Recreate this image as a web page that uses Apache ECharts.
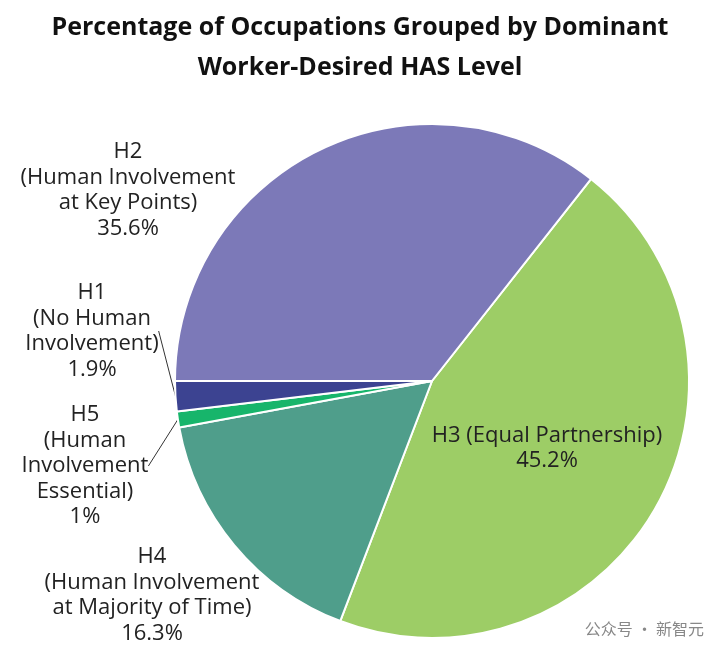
<!DOCTYPE html>
<html><head><meta charset="utf-8">
<script src="https://cdn.jsdelivr.net/npm/echarts@6/dist/echarts.min.js"></script>
<style>html,body{margin:0;background:#fff}#c{width:720px;height:651px}</style>
</head><body><div id="c"></div>
<script>
const categories = ['H3 (Equal Partnership)', 'H4\n(Human Involvement\nat Majority of Time)', 'H5\n(Human\nInvolvement\nEssential)', 'H1\n(No Human\nInvolvement)', 'H2\n(Human Involvement\nat Key Points)'];
const values = [45.2, 16.3, 1, 1.9, 35.6];
const valueLabels = ['45.2%', '16.3%', '1%', '1.9%', '35.6%'];
const colors = ['#9dcd66', '#4f9e8b', '#17b56b', '#3c4391', '#7c79b8'];
const labelPos = [[547, 448], [152, 595], [85, 466], [92, 331], [128, 190]];
const chart = echarts.init(document.getElementById('c'));
chart.setOption({
  title: {text: 'Percentage of Occupations Grouped by Dominant\nWorker-Desired HAS Level', left: 'center', top: 3,
    textStyle: {fontFamily: 'Open Sans', fontWeight: 'bold', fontSize: 25, lineHeight: 40, color: '#111'}},
  graphic: [{type: 'text', right: 16, bottom: 14, style: {text: '公众号 · 新智元', font: '16px "Noto Sans CJK SC"', fill: '#888'}}],
  series: [{
    type: 'pie', center: [432, 381], radius: 257, startAngle: 51.8, clockwise: true,
    itemStyle: {borderColor: '#fff', borderWidth: 2},
    data: categories.map((c, i) => ({name: c, value: values[i], itemStyle: {color: colors[i]},
      label: {position: i === 0 ? 'inside' : 'outside'},
      labelLine: {show: i === 2 || i === 3, lineStyle: {color: '#333', width: 1}}})),
    label: {color: '#222', fontFamily: 'Open Sans', fontSize: 22, lineHeight: 25.5, align: 'center', overflow: 'none',
      formatter: p => p.name + '\n' + valueLabels[p.dataIndex]},
    labelLine: {length: 0, length2: 0},
    labelLayout: p => ({x: labelPos[p.dataIndex][0], y: labelPos[p.dataIndex][1], align: 'center', verticalAlign: 'middle'})
  }]
});
</script></body></html>
